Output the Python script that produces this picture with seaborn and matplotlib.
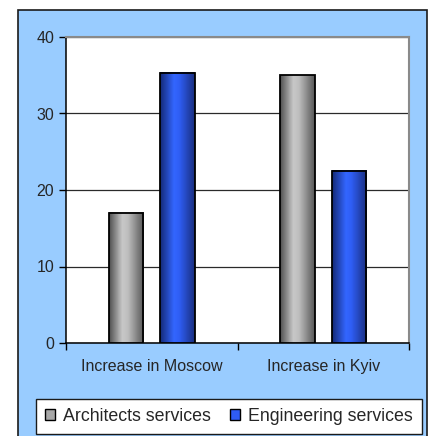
import numpy as np
import pandas as pd
import matplotlib
matplotlib.use("Agg")
import matplotlib.pyplot as plt
import seaborn as sns
from matplotlib.patches import Rectangle
from matplotlib.colors import LinearSegmentedColormap

categories = ["Increase in Moscow", "Increase in Kyiv"]
services = ["Architects services", "Engineering services"]
architects = [17.0, 35.0]
engineering = [35.3, 22.5]

df = pd.DataFrame({
    "city": categories * 2,
    "service": [services[0]] * 2 + [services[1]] * 2,
    "value": architects + engineering,
})

sns.set_style("white")
plt.rcParams["font.family"] = ["Liberation Sans", "DejaVu Sans"]

W, H = 430, 436
fig = plt.figure(figsize=(W / 100, H / 100), dpi=100, facecolor="white")

# light blue chart panel behind everything
panel = Rectangle((18 / W, -0.02), (427 - 18) / W, (H - 10) / H + 0.02,
                  transform=fig.transFigure, facecolor="#99CCFF",
                  edgecolor="#1a1a1a", linewidth=1.2, zorder=-5)
fig.patches.append(panel)

ax = fig.add_axes([66 / W, (H - 343) / H, (409 - 66) / W, (343 - 37) / H])
ax.set_facecolor("white")

flat = ["#a8a8a8", "#2f5cf5"]
sns.barplot(data=df, x="city", y="value", hue="service", palette=flat,
            saturation=1, width=0.6, gap=0.333, edgecolor="black",
            linewidth=1.3, ax=ax, zorder=3)

# cylinder style shading inside each bar
ramps = [
    LinearSegmentedColormap.from_list("g", [(0, "#505050"), (0.38, "#c8c8c8"),
                                            (0.55, "#bdbdbd"), (1, "#585858")]),
    LinearSegmentedColormap.from_list("b", [(0, "#142a78"), (0.4, "#3366ff"),
                                            (0.55, "#2f5ef5"), (1, "#1a2f80")]),
]
grad = np.linspace(0, 1, 64).reshape(1, -1)
for cmap, bars in zip(ramps, ax.containers):
    for bar in bars:
        x, y = bar.get_x(), bar.get_y()
        w, h = bar.get_width(), bar.get_height()
        ax.imshow(grad, cmap=cmap, extent=[x, x + w, y, y + h],
                  aspect="auto", zorder=2.9, interpolation="bilinear")
        bar.set_facecolor("none")

ax.set_xlim(-0.5, 1.5)
ax.set_ylim(0, 40)
ax.set_yticks([0, 10, 20, 30, 40])
ax.set_xlabel("")
ax.set_ylabel("")

ax.set_xticks([-0.5, 0.5, 1.5])
ax.set_xticklabels([])
ax.set_xticks([0, 1], minor=True)
ax.set_xticklabels(categories, minor=True, fontsize=11.5)
ax.tick_params(axis="x", which="major", direction="out", length=5,
               width=1, color="black", bottom=True)
ax.tick_params(axis="x", which="minor", length=0, pad=11.5, bottom=True)
ax.tick_params(axis="y", direction="out", length=5, width=1,
               color="black", labelsize=11.5, pad=3.5, left=True)

ax.yaxis.grid(True, color="#2a2a2a", linewidth=0.9)
ax.set_axisbelow(True)

for side in ["left", "bottom"]:
    ax.spines[side].set_color("black")
    ax.spines[side].set_linewidth(1.1)
for side in ["top", "right"]:
    ax.spines[side].set_color("#8a8a8a")
    ax.spines[side].set_linewidth(1.5)

handles, labels = ax.get_legend_handles_labels()
if ax.legend_ is not None:
    ax.legend_.remove()
for hd in handles:
    hd.set_edgecolor("black")
    hd.set_linewidth(1.0)
leg = fig.legend(handles, labels, loc="center", ncol=2,
                 bbox_to_anchor=(229 / W, (H - 416.5) / H),
                 fontsize=12.8, frameon=True, fancybox=False,
                 edgecolor="#1a1a1a", framealpha=1, facecolor="white",
                 handlelength=0.55, handleheight=0.55, handletextpad=0.45,
                 columnspacing=1.1, borderpad=0.5)
leg.get_frame().set_linewidth(1.0)

fig.savefig("out.png", dpi=100)
